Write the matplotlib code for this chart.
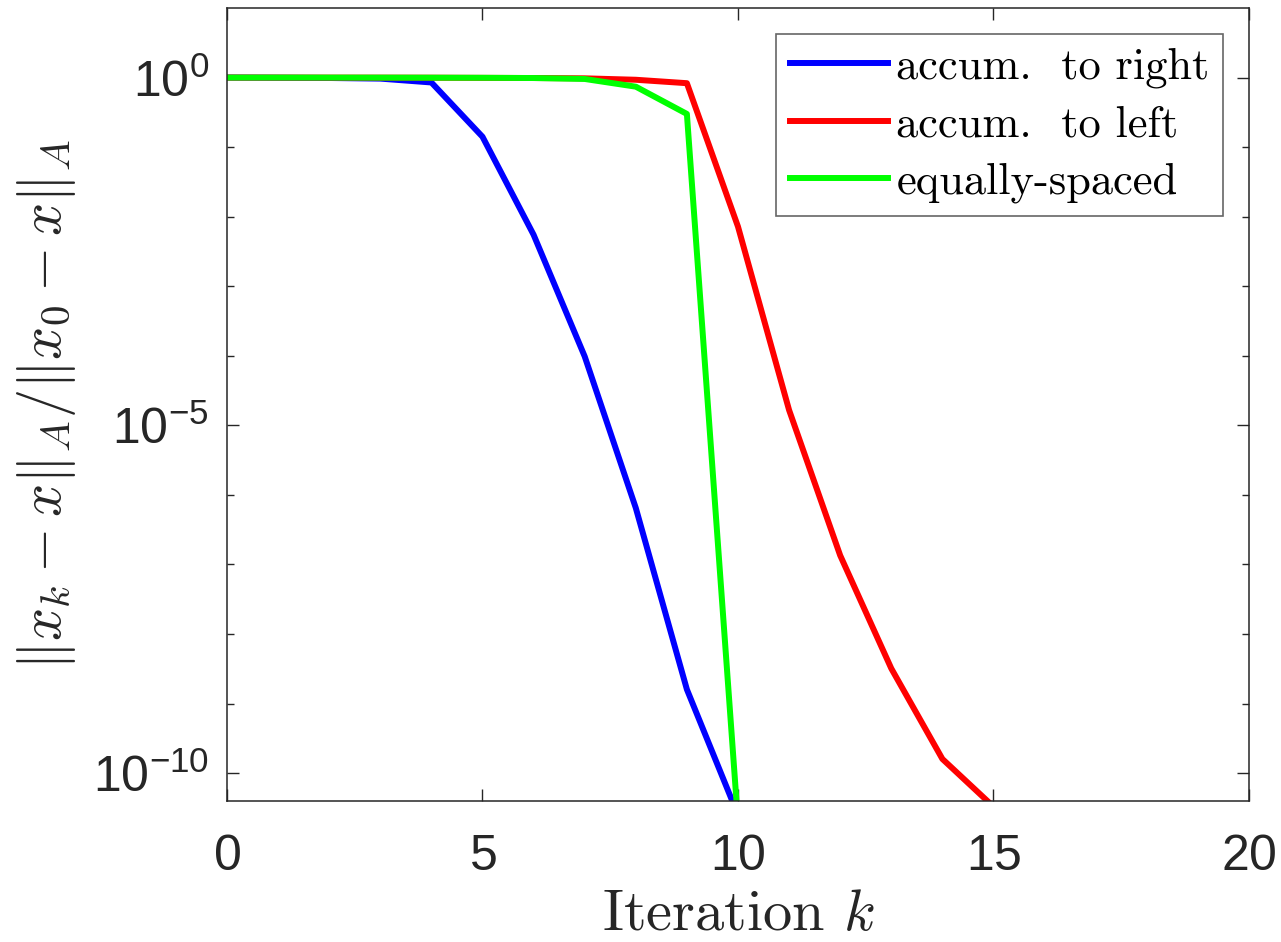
import numpy as np
import matplotlib
matplotlib.use('Agg')
import matplotlib.pyplot as plt

# fonts: tick labels in an Arial-like face, labels/legend in Computer Modern
plt.rcParams['font.family'] = 'Liberation Sans'
plt.rcParams['mathtext.fontset'] = 'custom'
plt.rcParams['mathtext.rm'] = 'Liberation Sans'
plt.rcParams['mathtext.it'] = 'Liberation Sans:italic'
plt.rcParams['axes.formatter.use_mathtext'] = True

# relative A-norm error per iteration
k_right = [0, 1, 2, 3, 4, 5, 6, 7, 8, 9, 10]
err_right = [1.0, 0.993, 0.986, 0.966, 0.85, 0.141, 5.5e-3, 9.8e-5, 6.5e-7, 1.6e-9, 2.5e-11]

k_left = [0, 1, 2, 3, 4, 5, 6, 7, 8, 9, 10, 11, 12, 13, 14, 15]
err_left = [1.0, 0.999, 0.998, 0.997, 0.995, 0.99, 0.985, 0.975, 0.93, 0.83,
            7.2e-3, 1.66e-5, 1.35e-7, 3.2e-9, 1.6e-10, 3.3e-11]

k_equal = [0, 1, 2, 3, 4, 5, 6, 7, 8, 9, 10]
err_equal = [1.0, 1.0, 0.999, 0.998, 0.996, 0.993, 0.985, 0.955, 0.74, 0.30, 2.0e-11]

labels = ['accum.  to right', 'accum.  to left', 'equally-spaced']
colors = [(0, 0, 1), (1, 0, 0), (0, 1, 0)]

dark = (0.15, 0.15, 0.15)

fig = plt.figure(figsize=(12.81, 9.42), dpi=100)
ax = fig.add_axes([0.1772, 0.1497, 0.7978, 0.8418])

ax.semilogy(k_right, err_right, color=colors[0], lw=4.3, label=labels[0])
ax.semilogy(k_left, err_left, color=colors[1], lw=4.3, label=labels[1])
ax.semilogy(k_equal, err_equal, color=colors[2], lw=4.3, label=labels[2])

ax.set_xlim(0, 20)
ax.set_ylim(10**-10.4, 10)
ax.set_xticks([0, 5, 10, 15, 20])
ax.set_yticks([1e-10, 1e-5, 1e0])
ax.set_yticks([10.0**e for e in range(-9, 1) if e not in (-5,)] , minor=True)
ax.set_yticklabels([r'$\mathrm{10^{-10}}$', r'$\mathrm{10^{-5}}$', r'$\mathrm{10^{0}}$'])
ax.yaxis.set_minor_formatter(plt.NullFormatter())

ax.tick_params(which='both', direction='in', top=True, right=True,
               colors=dark, labelsize=36, width=1.0)
ax.tick_params(which='major', length=8.5)
ax.tick_params(which='minor', length=5)
ax.tick_params(axis='x', pad=24)
ax.tick_params(axis='y', pad=13)
for s in ax.spines.values():
    s.set_color(dark)
    s.set_linewidth(1.1)

ax.set_xlabel('Iteration $k$', fontsize=42, fontfamily='cmr10',
              math_fontfamily='cm', color=dark)
ax.xaxis.set_label_coords(0.5, -0.1627)
ax.xaxis.label.set_va('baseline')

ax.set_ylabel(r'$\|x_k - x\|_A/\|x_0 - x\|_A$', fontsize=42,
              math_fontfamily='cm', color=dark)
ax.yaxis.set_label_coords(-0.177, 0.5)
ax.yaxis.label.set_va('center')

leg = ax.legend(loc='upper right', bbox_to_anchor=(0.9746, 0.967),
                borderaxespad=0, fancybox=False, framealpha=1,
                edgecolor=(0.4, 0.4, 0.4), handlelength=2.2,
                handletextpad=0.2, labelspacing=0.38, borderpad=0.3,
                prop={'family': 'cmr10', 'size': 32})
leg.get_frame().set_linewidth(1.2)

fig.savefig('out.png', dpi=100)
